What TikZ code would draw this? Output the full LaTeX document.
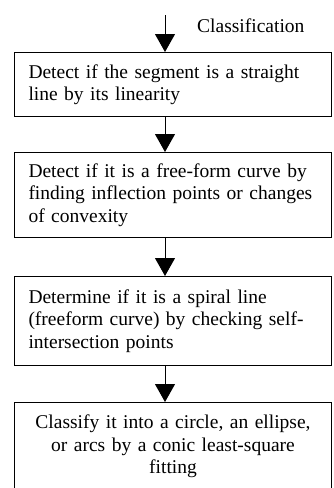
\documentclass[tikz,border=0pt]{standalone}
\usepackage{fontspec}
\setmainfont{Liberation Serif}
\usetikzlibrary{arrows.meta}

\begin{document}
\begin{tikzpicture}[
    x=1pt, y=1pt,
    stepbox/.style={draw, line width=1pt, anchor=north west,
        minimum width=317pt, text width=289pt, inner xsep=14pt, inner ysep=0pt,
        font=\fontsize{19.5}{22.5}\selectfont},
    flow/.style={line width=1pt, -{Triangle[width=20pt,length=18pt]}}
    ]
    \clip (0,0) rectangle (334,-488);
    \coordinate (top) at (165,-15);
    \node[anchor=west, inner sep=0pt, font=\fontsize{19.5}{22.5}\selectfont] (cls) at (197,-26) {Classification};
    \node[stepbox, minimum height=64pt, align=left] (s1) at (14,-52)
        {Detect if the segment is a straight\\line by its linearity};
    \node[stepbox, minimum height=85pt, align=left] (s2) at (14,-152)
        {Detect if it is a free-form curve by\\finding inflection points or changes\\of convexity};
    \node[stepbox, minimum height=89pt, align=left] (s3) at (14,-276)
        {Determine if it is a spiral line\\(freeform curve) by checking self-\\intersection points};
    \node[stepbox, minimum height=88pt, align=center] (s4) at (14,-402)
        {Classify it into a circle, an ellipse,\\or arcs by a conic least-square\\fitting};
    \draw[flow] (top) -- (s1.north -| top);
    \draw[flow] (s1.south -| top) -- (s2.north -| top);
    \draw[flow] (s2.south -| top) -- (s3.north -| top);
    \draw[flow] (s3.south -| top) -- (s4.north -| top);
\end{tikzpicture}
\end{document}
